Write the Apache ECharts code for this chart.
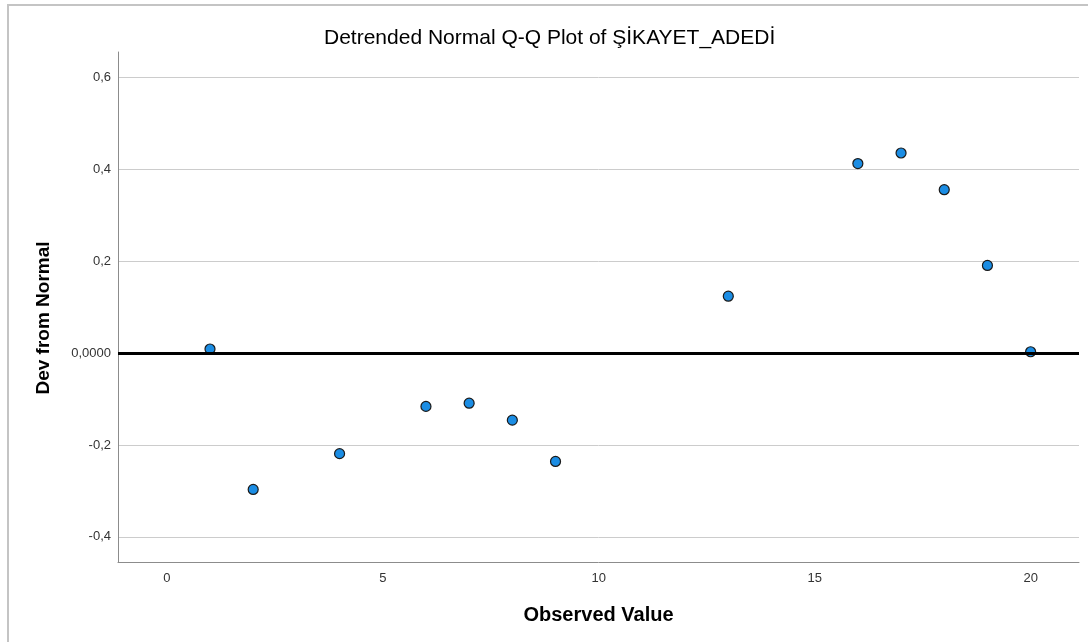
<!DOCTYPE html>
<html>
<head>
<meta charset="utf-8">
<script src="https://cdn.jsdelivr.net/npm/echarts@6/dist/echarts.min.js"></script>
<style>
html,body{margin:0;padding:0;background:#fff;}
#c{width:1088px;height:642px;}
</style>
</head>
<body>
<div id="c"></div>
<script>
const chartTitle = 'Detrended Normal Q-Q Plot of ŞİKAYET_ADEDİ';
const xAxisTitle = 'Observed Value';
const yAxisTitle = 'Dev from Normal';
const observedValues = [1, 2, 4, 6, 7, 8, 9, 13, 16, 17, 18, 19, 20];
const devFromNormal = [0.009, -0.297, -0.219, -0.116, -0.109, -0.146, -0.236, 0.124, 0.413, 0.436, 0.356, 0.191, 0.003];
const xTickValues = [0, 5, 10, 15, 20];
const yTickValues = [-0.4, -0.2, 0, 0.2, 0.4, 0.6];
const yTickLabels = ['-0,4', '-0,2', '0,0000', '0,2', '0,4', '0,6'];
const xRange = [-1.13, 21.12];
const yRange = [-0.455, 0.656];
const referenceLineValue = 0;

const font = "'Liberation Sans', Arial, sans-serif";
const points = observedValues.map((x, i) => [x, devFromNormal[i]]);

const chart = echarts.init(document.getElementById('c'), null, {renderer: 'canvas'});
chart.setOption({
  animation: false,
  backgroundColor: '#ffffff',
  textStyle: {fontFamily: font},
  title: {
    text: chartTitle,
    left: 324,
    top: 28,
    padding: 0,
    textStyle: {fontFamily: font, fontSize: 21, fontWeight: 'normal', color: '#000'}
  },
  graphic: [{
    type: 'polyline',
    shape: {points: [[8, 700], [8, 5], [1100, 5]]},
    style: {stroke: '#c4c4c4', lineWidth: 2, fill: null},
    silent: true
  }],
  grid: {left: 118, right: 9, top: 52, bottom: 80, containLabel: false},
  xAxis: {
    type: 'value',
    min: xRange[0],
    max: xRange[1],
    name: xAxisTitle,
    nameLocation: 'middle',
    nameGap: 43,
    nameTextStyle: {fontFamily: font, fontSize: 20, fontWeight: 'bold', color: '#000'},
    axisLine: {show: true, onZero: false, lineStyle: {color: '#8c8c8c', width: 1}},
    axisTick: {show: false, customValues: xTickValues},
    axisLabel: {customValues: xTickValues, fontSize: 13, color: '#333', margin: 10, fontFamily: font},
    splitLine: {show: false}
  },
  yAxis: {
    type: 'value',
    min: yRange[0],
    max: yRange[1],
    name: yAxisTitle,
    nameLocation: 'middle',
    nameGap: 65,
    nameTextStyle: {fontFamily: font, fontSize: 19, fontWeight: 'bold', color: '#000', padding: [0, 22, 0, 0]},
    axisLine: {show: true, onZero: false, lineStyle: {color: '#8c8c8c', width: 1}},
    axisTick: {show: false, customValues: yTickValues},
    axisLabel: {
      customValues: yTickValues,
      fontSize: 13, color: '#333', margin: 7, fontFamily: font,
      formatter: function (v) {
        for (let i = 0; i < yTickValues.length; i++) {
          if (Math.abs(yTickValues[i] - v) < 1e-9) return yTickLabels[i];
        }
        return '';
      }
    },
    splitLine: {show: true, lineStyle: {color: '#cccccc', width: 1}}
  },
  series: [
    {
      type: 'scatter',
      data: points,
      symbol: 'circle',
      symbolSize: 10,
      z: 2,
      itemStyle: {color: '#1b8de4', borderColor: '#1a1a1a', borderWidth: 1.2, opacity: 1}
    },
    {
      type: 'line',
      data: [],
      z: 3,
      markLine: {
        silent: true,
        symbol: 'none',
        label: {show: false},
        lineStyle: {color: '#000', width: 3, type: 'solid'},
        data: [{yAxis: referenceLineValue}]
      }
    }
  ]
});
</script>
</body>
</html>
